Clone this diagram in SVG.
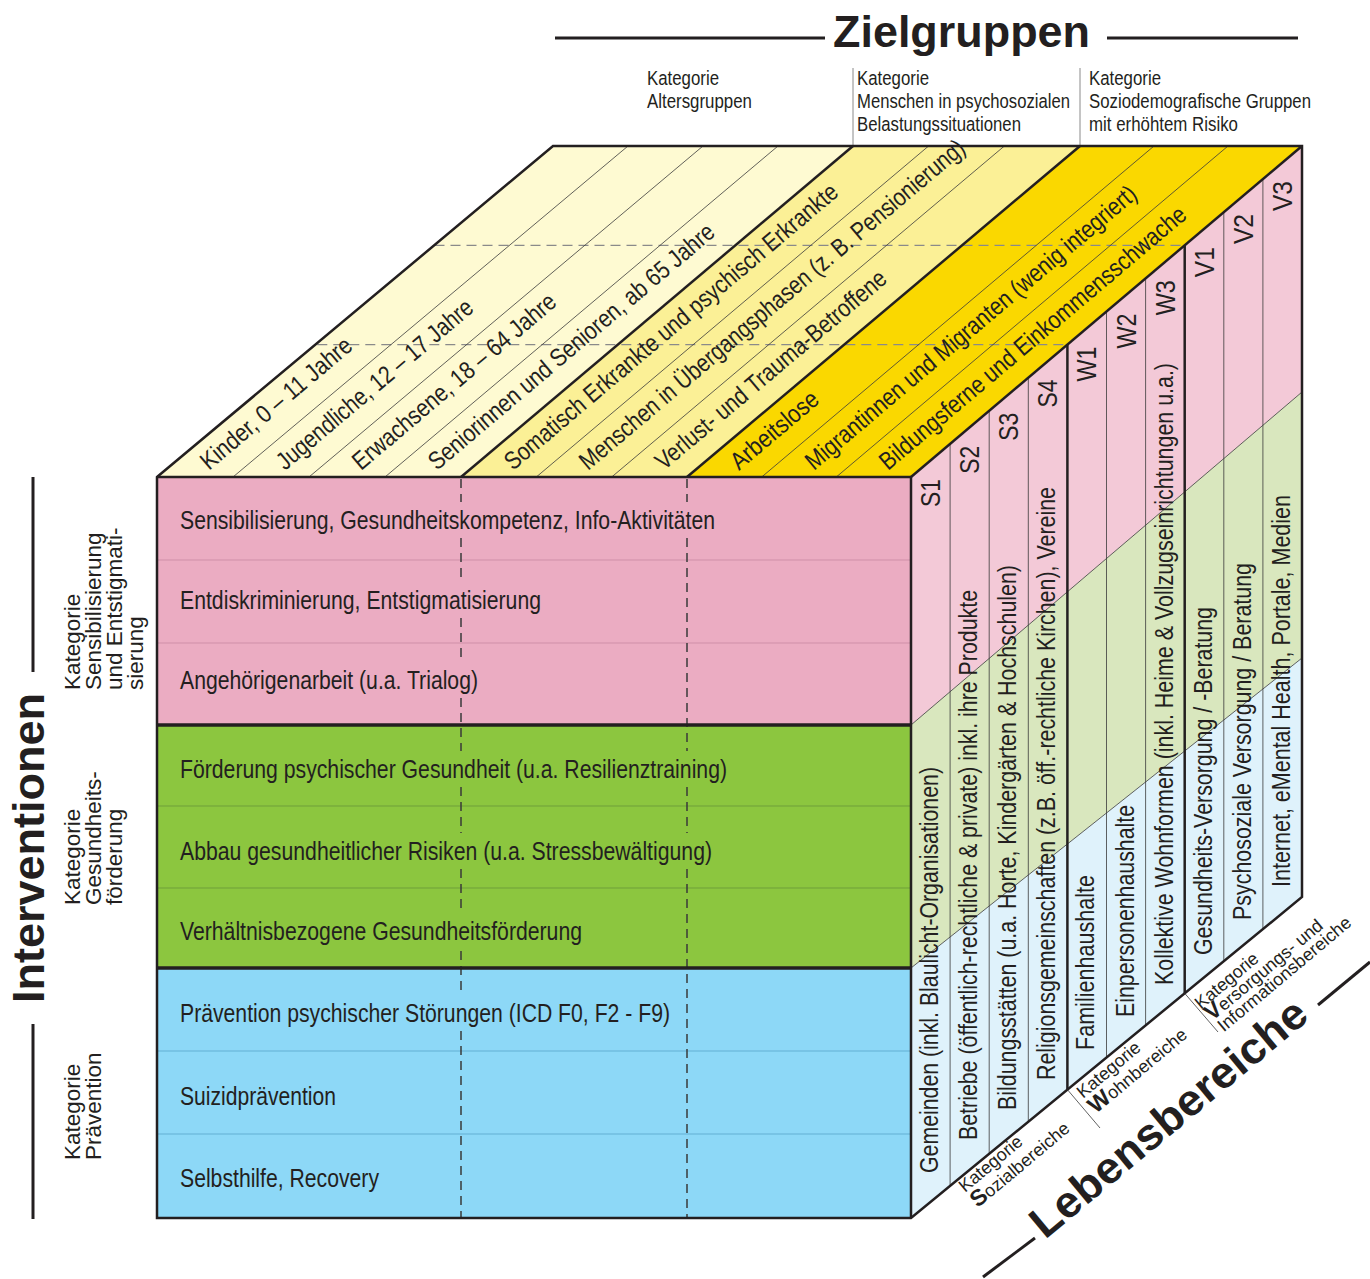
<svg xmlns="http://www.w3.org/2000/svg" width="1370" height="1279" viewBox="0 0 1370 1279">
<style>
text{fill:#231F20}
.n{font-family:"Liberation Sans Narrow","Liberation Sans",Arial,sans-serif}
.r{font-family:"Liberation Sans",Arial,sans-serif}
.b{font-family:"Liberation Sans",Arial,sans-serif;font-weight:bold}
.ft{font-size:25px}
.fs{font-size:26px}
.fl{font-size:28px}
.fc{font-size:20.5px}
.fk{font-size:22.5px}
.fb{font-size:18px}
.big{font-size:44px}
.thin{stroke:#3a3a3a;stroke-width:0.8;fill:none}
.thick{stroke:#231F20;stroke-width:2.5;fill:none}
.sep{stroke:#231F20;stroke-width:3.5}
.dash{stroke:#3a3a3a;stroke-width:1.5;stroke-dasharray:9 6;fill:none}
.tdash{stroke:#8a8a8a;stroke-width:1.3;stroke-dasharray:10 6}
.hl{stroke:#231F20;stroke-width:3}
</style>

<!-- Headings -->
<g id="heading-zielgruppen">
  <line class="hl" x1="555" y1="38" x2="825" y2="38"/>
  <line class="hl" x1="1107" y1="38" x2="1298" y2="38"/>
  <text class="b big" x="833" y="47" textLength="257" lengthAdjust="spacingAndGlyphs">Zielgruppen</text>
</g>
<g id="cat-alter">
  <text class="n fc" x="647" y="85" textLength="72" lengthAdjust="spacingAndGlyphs">Kategorie</text>
  <text class="n fc" x="647" y="108" textLength="105" lengthAdjust="spacingAndGlyphs">Altersgruppen</text>
</g>
<g id="cat-psychosozial">
  <line x1="853" y1="68" x2="853" y2="146" stroke="#8a8a8a" stroke-width="1"/>
  <text class="n fc" x="857" y="85" textLength="72" lengthAdjust="spacingAndGlyphs">Kategorie</text>
  <text class="n fc" x="857" y="108" textLength="213" lengthAdjust="spacingAndGlyphs">Menschen in psychosozialen</text>
  <text class="n fc" x="857" y="131" textLength="164" lengthAdjust="spacingAndGlyphs">Belastungssituationen</text>
</g>
<g id="cat-sozio">
  <line x1="1080" y1="68" x2="1080" y2="146" stroke="#8a8a8a" stroke-width="1"/>
  <text class="n fc" x="1089" y="85" textLength="72" lengthAdjust="spacingAndGlyphs">Kategorie</text>
  <text class="n fc" x="1089" y="108" textLength="222" lengthAdjust="spacingAndGlyphs">Soziodemografische Gruppen</text>
  <text class="n fc" x="1089" y="131" textLength="149" lengthAdjust="spacingAndGlyphs">mit erhöhtem Risiko</text>
</g>

<g id="heading-interventionen">
  <line class="hl" x1="33" y1="477" x2="33" y2="672"/>
  <line class="hl" x1="33" y1="1024" x2="33" y2="1219"/>
  <text class="b big" transform="translate(44,1003) rotate(-90)" textLength="310" lengthAdjust="spacingAndGlyphs">Interventionen</text>
</g>
<g id="cat-sensibilisierung">
  <text class="r fk" transform="translate(80,690) rotate(-90)">Kategorie</text>
  <text class="r fk" transform="translate(101,690) rotate(-90)">Sensibilisierung</text>
  <text class="r fk" transform="translate(122,690) rotate(-90)">und Entstigmati-</text>
  <text class="r fk" transform="translate(143,690) rotate(-90)">sierung</text>
</g>
<g id="cat-gesundheit">
  <text class="r fk" transform="translate(80,905) rotate(-90)">Kategorie</text>
  <text class="r fk" transform="translate(101,905) rotate(-90)">Gesundheits-</text>
  <text class="r fk" transform="translate(122,905) rotate(-90)">förderung</text>
</g>
<g id="cat-praevention">
  <text class="r fk" transform="translate(80,1160) rotate(-90)">Kategorie</text>
  <text class="r fk" transform="translate(101,1160) rotate(-90)">Prävention</text>
</g>

<!-- Top face -->
<g id="top-face">
  <polygon points="157,477 461,477 853,146 553,146" fill="#FEFAD2"/>
  <polygon points="461,477 687,477 1080,146 853,146" fill="#FBF096"/>
  <polygon points="687,477 911,477 1302,146 1080,146" fill="#FAD800"/>
  <line class="tdash" x1="434.5" y1="245.3" x2="1184.7" y2="245.3"/>
  <line class="tdash" x1="317.3" y1="344.6" x2="1067.4" y2="344.6"/>
  <g class="thin">
    <line x1="233" y1="477" x2="628" y2="146"/>
    <line x1="309" y1="477" x2="703" y2="146"/>
    <line x1="385" y1="477" x2="778" y2="146"/>
    <line x1="536.3" y1="477" x2="928.6" y2="146"/>
    <line x1="611.7" y1="477" x2="1004.4" y2="146"/>
    <line x1="761.7" y1="477" x2="1154" y2="146"/>
    <line x1="836.3" y1="477" x2="1228" y2="146"/>
  </g>
  <line class="thick" x1="461" y1="477" x2="853" y2="146"/>
  <line class="thick" x1="687" y1="477" x2="1080" y2="146"/>
</g>
<g id="zg-kinder"><text class="n ft" transform="translate(209,471) rotate(-40.2)" textLength="190" lengthAdjust="spacingAndGlyphs">Kinder, 0 – 11 Jahre</text></g>
<g id="zg-jugendliche"><text class="n ft" transform="translate(285,471) rotate(-40.2)" textLength="249" lengthAdjust="spacingAndGlyphs">Jugendliche, 12 – 17 Jahre</text></g>
<g id="zg-erwachsene"><text class="n ft" transform="translate(361,471) rotate(-40.2)" textLength="258" lengthAdjust="spacingAndGlyphs">Erwachsene, 18 – 64 Jahre</text></g>
<g id="zg-senioren"><text class="n ft" transform="translate(437,471) rotate(-40.2)" textLength="366" lengthAdjust="spacingAndGlyphs">Seniorinnen und Senioren, ab 65 Jahre</text></g>
<g id="zg-somatisch"><text class="n ft" transform="translate(513,471) rotate(-40.2)" textLength="428" lengthAdjust="spacingAndGlyphs">Somatisch Erkrankte und psychisch Erkrankte</text></g>
<g id="zg-uebergang"><text class="n ft" transform="translate(588,471) rotate(-40.2)" textLength="496" lengthAdjust="spacingAndGlyphs">Menschen in Übergangsphasen (z. B. Pensionierung)</text></g>
<g id="zg-verlust"><text class="n ft" transform="translate(664,471) rotate(-40.2)" textLength="294" lengthAdjust="spacingAndGlyphs">Verlust- und Trauma-Betroffene</text></g>
<g id="zg-arbeitslose"><text class="n ft" transform="translate(739,471) rotate(-40.2)" textLength="107" lengthAdjust="spacingAndGlyphs">Arbeitslose</text></g>
<g id="zg-migranten"><text class="n ft" transform="translate(814,471) rotate(-40.2)" textLength="425" lengthAdjust="spacingAndGlyphs">Migrantinnen und Migranten (wenig integriert)</text></g>
<g id="zg-bildungsferne"><text class="n ft" transform="translate(888,471) rotate(-40.2)" textLength="393" lengthAdjust="spacingAndGlyphs">Bildungsferne und Einkommensschwache</text></g>

<!-- Front face -->
<g id="front-face">
  <rect x="157" y="477" width="754" height="248" fill="#EBACC2"/>
  <rect x="157" y="725" width="754" height="243" fill="#8CC63F"/>
  <rect x="157" y="968" width="754" height="250" fill="#8DD8F7"/>
  <line x1="157" y1="560" x2="911" y2="560" stroke="#CF8FA8" stroke-width="1"/>
  <line x1="157" y1="643" x2="911" y2="643" stroke="#CF8FA8" stroke-width="1"/>
  <line x1="157" y1="806" x2="911" y2="806" stroke="#6E9F3A" stroke-width="1"/>
  <line x1="157" y1="888" x2="911" y2="888" stroke="#6E9F3A" stroke-width="1"/>
  <line x1="157" y1="1051" x2="911" y2="1051" stroke="#62AFD3" stroke-width="1"/>
  <line x1="157" y1="1134" x2="911" y2="1134" stroke="#62AFD3" stroke-width="1"/>
  <path class="dash" d="M461,479V502M461,538V581M461,618V662M461,698V751M461,787V833M461,869V913M461,951V995M461,1031V1217"/>
  <path class="dash" d="M687,479V502M687,538V751M687,787V833M687,869V1217"/>
  <line class="sep" x1="157" y1="725" x2="911" y2="725"/>
  <line class="sep" x1="157" y1="968" x2="911" y2="968"/>
</g>
<g id="iv-sensibilisierung"><text class="n ft" x="180" y="529" textLength="535" lengthAdjust="spacingAndGlyphs">Sensibilisierung, Gesundheitskompetenz, Info-Aktivitäten</text></g>
<g id="iv-entdiskriminierung"><text class="n ft" x="180" y="609" textLength="361" lengthAdjust="spacingAndGlyphs">Entdiskriminierung, Entstigmatisierung</text></g>
<g id="iv-angehoerige"><text class="n ft" x="180" y="689" textLength="298" lengthAdjust="spacingAndGlyphs">Angehörigenarbeit (u.a. Trialog)</text></g>
<g id="iv-foerderung"><text class="n ft" x="180" y="778" textLength="547" lengthAdjust="spacingAndGlyphs">Förderung psychischer Gesundheit (u.a. Resilienztraining)</text></g>
<g id="iv-abbau"><text class="n ft" x="180" y="860" textLength="532" lengthAdjust="spacingAndGlyphs">Abbau gesundheitlicher Risiken (u.a. Stressbewältigung)</text></g>
<g id="iv-verhaeltnis"><text class="n ft" x="180" y="940" textLength="402" lengthAdjust="spacingAndGlyphs">Verhältnisbezogene Gesundheitsförderung</text></g>
<g id="iv-praevention"><text class="n ft" x="180" y="1022" textLength="490" lengthAdjust="spacingAndGlyphs">Prävention psychischer Störungen (ICD F0, F2 - F9)</text></g>
<g id="iv-suizid"><text class="n ft" x="180" y="1105" textLength="156" lengthAdjust="spacingAndGlyphs">Suizidprävention</text></g>
<g id="iv-selbsthilfe"><text class="n ft" x="180" y="1187" textLength="199" lengthAdjust="spacingAndGlyphs">Selbsthilfe, Recovery</text></g>

<!-- Right face -->
<g id="right-face">
  <polygon points="911,477 1302,146 1302,392 911,725" fill="#F3C9D7"/>
  <polygon points="911,725 1302,392 1302,658 911,968" fill="#D9E7BE"/>
  <polygon points="911,968 1302,658 1302,897 911,1218" fill="#DFF2FB"/>
  <line class="thin" x1="911" y1="725" x2="1302" y2="392"/>
  <line class="thin" x1="911" y1="968" x2="1302" y2="658"/>
  <g class="thin">
    <line x1="950.1" y1="443.9" x2="950.1" y2="1185.9"/>
    <line x1="989.2" y1="410.8" x2="989.2" y2="1153.8"/>
    <line x1="1028.3" y1="377.7" x2="1028.3" y2="1121.7"/>
    <line x1="1106.5" y1="311.5" x2="1106.5" y2="1057.5"/>
    <line x1="1145.6" y1="278.4" x2="1145.6" y2="1025.4"/>
    <line x1="1223.8" y1="212.2" x2="1223.8" y2="961.2"/>
    <line x1="1262.9" y1="179" x2="1262.9" y2="929.1"/>
  </g>
  <line class="thick" x1="1067.4" y1="344.6" x2="1067.4" y2="1089.6"/>
  <line class="thick" x1="1184.7" y1="245.3" x2="1184.7" y2="993.3"/>
</g>
<g id="lb-s1">
  <text class="n fl" transform="translate(940,479) rotate(-90)" text-anchor="end" textLength="28" lengthAdjust="spacingAndGlyphs">S1</text>
  <text class="n fs" transform="translate(938,1173) rotate(-90)" textLength="406" lengthAdjust="spacingAndGlyphs">Gemeinden (inkl. Blaulicht-Organisationen)</text>
</g>
<g id="lb-s2">
  <text class="n fl" transform="translate(979.1,445.8) rotate(-90)" text-anchor="end" textLength="28" lengthAdjust="spacingAndGlyphs">S2</text>
  <text class="n fs" transform="translate(977.1,1140) rotate(-90)" textLength="550" lengthAdjust="spacingAndGlyphs">Betriebe (öffentlich-rechtliche &amp; private) inkl. ihre Produkte</text>
</g>
<g id="lb-s3">
  <text class="n fl" transform="translate(1018.2,412.7) rotate(-90)" text-anchor="end" textLength="28" lengthAdjust="spacingAndGlyphs">S3</text>
  <text class="n fs" transform="translate(1016.2,1110) rotate(-90)" textLength="545" lengthAdjust="spacingAndGlyphs">Bildungsstätten (u.a. Horte, Kindergärten &amp; Hochschulen)</text>
</g>
<g id="lb-s4">
  <text class="n fl" transform="translate(1057.3,379.6) rotate(-90)" text-anchor="end" textLength="28" lengthAdjust="spacingAndGlyphs">S4</text>
  <text class="n fs" transform="translate(1055.3,1080) rotate(-90)" textLength="593" lengthAdjust="spacingAndGlyphs">Religionsgemeinschaften (z.B. öff.-rechtliche Kirchen), Vereine</text>
</g>
<g id="lb-w1">
  <text class="n fl" transform="translate(1096.4,346.5) rotate(-90)" text-anchor="end" textLength="35" lengthAdjust="spacingAndGlyphs">W1</text>
  <text class="n fs" transform="translate(1094.4,1050) rotate(-90)" textLength="175" lengthAdjust="spacingAndGlyphs">Familienhaushalte</text>
</g>
<g id="lb-w2">
  <text class="n fl" transform="translate(1135.5,313.4) rotate(-90)" text-anchor="end" textLength="35" lengthAdjust="spacingAndGlyphs">W2</text>
  <text class="n fs" transform="translate(1133.5,1017) rotate(-90)" textLength="212" lengthAdjust="spacingAndGlyphs">Einpersonenhaushalte</text>
</g>
<g id="lb-w3">
  <text class="n fl" transform="translate(1174.6,280.3) rotate(-90)" text-anchor="end" textLength="35" lengthAdjust="spacingAndGlyphs">W3</text>
  <text class="n fs" transform="translate(1172.6,985) rotate(-90)" textLength="622" lengthAdjust="spacingAndGlyphs">Kollektive Wohnformen (inkl. Heime &amp; Vollzugseinrichtungen u.a.)</text>
</g>
<g id="lb-v1">
  <text class="n fl" transform="translate(1213.7,247.2) rotate(-90)" text-anchor="end" textLength="30" lengthAdjust="spacingAndGlyphs">V1</text>
  <text class="n fs" transform="translate(1211.7,955) rotate(-90)" textLength="348" lengthAdjust="spacingAndGlyphs">Gesundheits-Versorgung / -Beratung</text>
</g>
<g id="lb-v2">
  <text class="n fl" transform="translate(1252.8,214) rotate(-90)" text-anchor="end" textLength="30" lengthAdjust="spacingAndGlyphs">V2</text>
  <text class="n fs" transform="translate(1250.8,920) rotate(-90)" textLength="357" lengthAdjust="spacingAndGlyphs">Psychosoziale Versorgung / Beratung</text>
</g>
<g id="lb-v3">
  <text class="n fl" transform="translate(1291.9,181) rotate(-90)" text-anchor="end" textLength="30" lengthAdjust="spacingAndGlyphs">V3</text>
  <text class="n fs" transform="translate(1289.9,887) rotate(-90)" textLength="392" lengthAdjust="spacingAndGlyphs">Internet, eMental Health, Portale, Medien</text>
</g>

<!-- Cube outline -->
<g id="outline" class="thick">
  <polygon points="157,477 553,146 1302,146 1302,897 911,1218 157,1218"/>
  <line x1="157" y1="477" x2="911" y2="477"/>
  <line x1="911" y1="477" x2="1302" y2="146"/>
  <line x1="911" y1="477" x2="911" y2="1218"/>
</g>

<!-- Lebensbereiche -->
<g id="connectors">
  <line class="thin" x1="1067.4" y1="1089.6" x2="1100" y2="1128"/>
  <line class="thin" x1="1184.7" y1="993.3" x2="1218" y2="1032"/>
</g>
<g id="heading-lebensbereiche">
  <line class="hl" x1="983" y1="1277" x2="1035" y2="1238"/>
  <line class="hl" x1="1318" y1="1005" x2="1370" y2="962"/>
  <text class="b big" transform="translate(1045,1240) rotate(-39.8)" textLength="346" lengthAdjust="spacingAndGlyphs">Lebensbereiche</text>
</g>
<g id="cat-sozial" transform="translate(965,1193) rotate(-40)">
  <text class="r fb" x="0" y="0">Kategorie</text>
  <text class="r fb" x="0" y="20"><tspan font-weight="bold" font-size="23">S</tspan>ozialbereiche</text>
</g>
<g id="cat-wohn" transform="translate(1083,1099) rotate(-40)">
  <text class="r fb" x="0" y="0">Kategorie</text>
  <text class="r fb" x="0" y="20"><tspan font-weight="bold" font-size="23">W</tspan>ohnbereiche</text>
</g>
<g id="cat-versorgung" transform="translate(1201,1010) rotate(-40)">
  <text class="r fb" x="0" y="0">Kategorie</text>
  <text class="r fb" x="1" y="16"><tspan font-weight="bold" font-size="23">V</tspan>ersorgungs- und</text>
  <text class="r fb" x="3" y="32">Informationsbereiche</text>
</g>
</svg>
